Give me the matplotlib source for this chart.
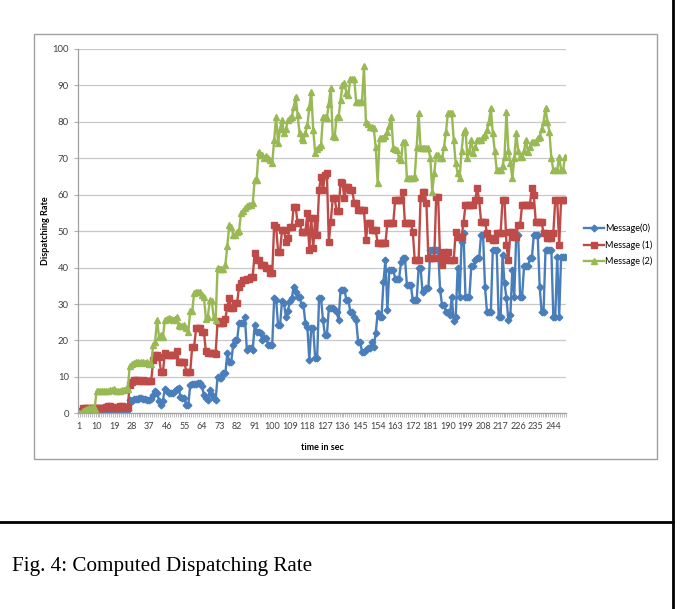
import matplotlib
matplotlib.use("Agg")
import matplotlib.pyplot as plt
from matplotlib.patches import Rectangle
from matplotlib.lines import Line2D
import numpy as np

# values, one per second (t = 1..250)
msg0 = [
    0, 0, 0.5, 0.8, 0.8, 0.8, 0.8, 0.8, 0.8, 0.8,
    0.8, 0.8, 0.8, 0.8, 0.8, 0.8, 0.8, 0.8, 0.8, 0.8,
    0.8, 0.8, 0.8, 0.8, 0.8, 0.8, 3.7, 3.5, 3.8, 4,
    4, 4.2, 4.1, 3.8, 3.9, 3.7, 3.6, 3.8, 5, 6,
    5.5, 3.5, 2.3, 3.5, 6.6, 6, 5.5, 5.5, 5.5, 6,
    6.6, 6.9, 4.6, 4.1, 4.1, 2.3, 2.3, 7.8, 8, 8,
    8, 8.2, 8.4, 7.5, 5, 4.1, 3.7, 6.4, 5, 4.1,
    3.7, 10, 9.6, 9.6, 11, 11, 16.5, 14.2, 14.2, 18.8,
    20.1, 20.1, 24.7, 24.7, 24.7, 26.5, 17.4, 17.8, 17.8, 17.4,
    24.2, 22.4, 22.4, 22, 20.1, 20.6, 20.6, 18.8, 18.8, 18.8,
    31.6, 31.2, 24.2, 24.2, 30.7, 30.2, 26.5, 28, 30.7, 31.6,
    34.8, 33.4, 32, 32, 29.7, 29.7, 24.7, 23.8, 14.6, 23.3,
    23.3, 15.1, 15.1, 31.6, 31.6, 25.6, 21.5, 21.5, 28.8, 28.8,
    28.8, 28.4, 27.9, 25.6, 33.9, 33.9, 33.9, 31.1, 31.1, 27.9,
    27.9, 26.5, 25.6, 19.7, 19.7, 16.9, 16.9, 17.4, 17.8, 17.8,
    19.7, 18.3, 22, 27.4, 26.5, 26.5, 36.1, 42.1, 28.4, 39.3,
    39.3, 39.3, 37, 37, 37, 41.6, 42.5, 42.5, 35.2, 35.2,
    35.2, 31.1, 31.1, 31.1, 39.8, 39.8, 33.4, 33.9, 34.3, 34.3,
    44.8, 44.8, 44.8, 44.8, 44.8, 33.9, 29.7, 29.7, 27.9, 27.9,
    27, 32, 25.2, 26.5, 39.8, 32, 47.1, 49.4, 32, 32,
    32, 40.3, 40.3, 42.1, 42.5, 42.5, 49, 49, 34.8, 27.9,
    27.9, 27.9, 44.8, 44.8, 44.8, 26.5, 26.5, 43.5, 35.7, 31.6,
    25.6, 27, 39.3, 32, 49, 49, 32, 32, 40.3, 40.3,
    40.3, 42.5, 42.5, 49, 49, 49, 34.8, 27.9, 27.9, 44.8,
    44.8, 44.8, 44.8, 26.5, 26.5, 43, 26.5, 43, 43, 43,
]

msg1 = [
    0, 0.5, 1.4, 1.4, 1.4, 1.4, 1.4, 1.4, 1.4, 1.4,
    1.4, 1.4, 1.4, 1.4, 1.6, 2, 2, 1.5, 1.6, 1.4,
    1.5, 2, 2, 1.8, 1.8, 1.8, 7.8, 8.7, 9.1, 9.1,
    9.1, 8.8, 9, 9.2, 9, 8.9, 8.8, 8.8, 14.6, 16,
    16, 15.5, 11.4, 11.4, 16.5, 16, 16, 16, 16, 16,
    17, 14.2, 14.2, 14.2, 14.2, 11.4, 11.4, 11.4, 18.3, 18.3,
    23.3, 23.3, 23.3, 22.4, 22.4, 17, 16.5, 16.5, 16.5, 16.5,
    16.3, 25.2, 24.7, 24.7, 24.7, 26, 29.3, 31.6, 28.8, 28.8,
    30.2, 30.2, 34.8, 35.7, 36.6, 36.6, 37, 37, 37.5, 37.5,
    43.9, 42, 42, 40.7, 40.7, 40.7, 39.8, 39.8, 38.4, 38.4,
    51.7, 51.2, 44.4, 44.4, 50.3, 50.3, 47.1, 48, 51.2, 51.2,
    56.7, 56.7, 52.2, 52.6, 49.9, 49.9, 49.9, 54.9, 44.8, 53.5,
    45.3, 53.5, 49, 61.3, 65, 61.3, 65.4, 65.9, 47.1, 52.6,
    59, 59, 55.4, 55.4, 63.6, 63.1, 59, 62.2, 62.2, 61.3,
    61.3, 57.6, 57.6, 55.8, 55.8, 55.8, 55.8, 47.6, 52.2, 52.2,
    50.3, 50.3, 50.3, 46.7, 46.7, 46.7, 46.7, 46.7, 52.2, 52.2,
    52.2, 52.2, 58.6, 58.6, 58.6, 58.6, 60.8, 52.2, 52.2, 52.2,
    52.2, 49.9, 42.1, 42.1, 42.1, 59, 60.8, 60.8, 57.6, 42.5,
    42.5, 42.5, 42.5, 59.5, 59.5, 42.5, 40.7, 44.4, 42.1, 44.4,
    42.1, 42.1, 42.1, 49.9, 48.5, 48.5, 48.5, 52.2, 57.2, 57.2,
    57.2, 57.2, 57.2, 58.6, 61.8, 58.6, 52.6, 52.6, 52.6, 49.4,
    48, 48, 47.6, 47.6, 49.4, 49.4, 49.4, 58.6, 58.6, 46.2,
    42.1, 49.9, 49.9, 48.5, 48.5, 51.7, 51.7, 57.2, 57.2, 57.2,
    57.2, 57.2, 61.8, 59.9, 52.6, 52.6, 52.6, 52.6, 49.4, 49.4,
    48, 48, 48, 49.4, 58.6, 58.6, 46.2, 58.6, 58.6, 58.6,
]

msg2 = [
    0, 0, 0.5, 1, 1.2, 1.5, 1.5, 1.5, 1.2, 6,
    6, 6, 6.2, 6, 6.1, 6, 6.3, 6.5, 6.8, 6.2,
    6, 6.1, 6.3, 6.5, 6.6, 6.8, 13, 13.5, 13.8, 14,
    14, 13.8, 14.1, 14, 13.9, 14.2, 13.6, 13.5, 18.8, 19.7,
    25.6, 21, 21.5, 21, 25.6, 26, 26.2, 25.8, 25.6, 26,
    26.5, 24.2, 24, 24, 24.2, 23.5, 22.4, 28, 28, 33,
    33.4, 33.4, 33.2, 32.5, 32, 26, 26.5, 31, 30.7, 26.5,
    25.6, 40, 39.5, 39.5, 39.5, 40.7, 46, 51.7, 51.2, 49,
    49, 49.9, 50, 55, 55.4, 56.3, 56.8, 57.2, 57.2, 57.6,
    64, 64, 71.8, 70.9, 70.9, 70, 70.5, 70, 69.5, 68.6,
    75, 81.4, 74.1, 78, 80.5, 76.9, 78, 80.5, 81, 81.4,
    84, 86.9, 81.9, 76.9, 75.5, 75, 77, 79.1, 84, 88.3,
    77.8, 71.4, 72.5, 73, 73.7, 81.4, 81.4, 81, 85, 89.2,
    76, 75.9, 81.4, 81.4, 86, 90.1, 90.6, 88, 87.4, 91.9,
    91.9, 91.9, 85.5, 85.5, 85.5, 85.5, 95.2, 80, 79.5, 78.7,
    78.5, 78.2, 73.2, 63.1, 75.5, 75.5, 75.5, 76, 77.3, 79,
    81.4, 72.7, 72.5, 72.2, 70, 69.5, 74.6, 74.6, 64.5, 64.5,
    64.5, 64.5, 65, 73, 82.3, 72.7, 72.7, 72.7, 72.7, 72.7,
    70, 60.8, 66, 70.9, 70.9, 70, 70, 73, 77.3, 82.3,
    82.3, 82.3, 75, 68.6, 66, 64.5, 72, 77.3, 77.8, 70,
    72, 75, 71.4, 73, 75, 75, 75, 75.9, 76.5, 77.8,
    80, 83.7, 76.9, 72, 66.8, 66.8, 66.8, 68, 70.4, 82.8,
    72, 68.6, 64.5, 70, 76.9, 72, 70.4, 70.4, 72, 75,
    71.8, 73, 74.6, 74.6, 74.6, 75.5, 75.9, 78, 80, 83.7,
    80, 77.3, 70, 66.8, 66.8, 66.8, 70.4, 66.8, 66.8, 70.4,
]

t = np.arange(1, len(msg0) + 1)
tick_labels = list(range(1, 245, 9))
series = [
    ("Message(0)", msg0, "#4A7EBB", "D", 3.4),
    ("Message (1)", msg1, "#BE4B48", "s", 4.2),
    ("Message (2)", msg2, "#98B954", "^", 4.4),
]

W, H = 692, 609
fig = plt.figure(figsize=(W / 100, H / 100), dpi=100)
plt.rcParams['font.family'] = ['Lato', 'DejaVu Sans']

# chart frame (the pasted Excel chart)
fig.patches.append(Rectangle((34 / W, 1 - 459 / H), 623 / W, 425 / H,
                             transform=fig.transFigure, fill=False,
                             edgecolor="#a0a0a0", linewidth=1.0))

ax = fig.add_axes([78 / W, 1 - 413.3 / H, (566 - 78) / W, (413.3 - 49) / H])
for name, vals, col, mk, ms in series:
    ax.plot(t, vals, color=col, linewidth=1.7, marker=mk, markersize=ms,
            markerfacecolor=col, markeredgecolor=col, label=name)

ax.set_xlim(0.5, len(t) + 0.5)
ax.set_ylim(0, 100)
ax.set_yticks(range(0, 101, 10))
ax.set_xticks(tick_labels)
ax.set_xticks(np.arange(0.5, len(t) + 1, 1), minor=True)
ax.tick_params(axis="x", which="major", length=0, labelsize=6.5, pad=6, colors="#404040")
ax.tick_params(axis="x", which="minor", length=3, color="#b0b0b0", width=0.6)
ax.tick_params(axis="y", length=3, color="#b0b0b0", labelsize=6.8, colors="#404040")
ax.grid(axis="y", color="#c8c8c8", linewidth=0.9)
ax.set_axisbelow(True)
for s in ["top", "right"]:
    ax.spines[s].set_visible(False)
for s in ["left", "bottom"]:
    ax.spines[s].set_color("#a0a0a0")
    ax.spines[s].set_linewidth(0.9)

ax.set_xlabel("time in sec", fontsize=6.5, fontweight="bold")
ax.set_ylabel("Dispatching Rate", fontsize=6.5, fontweight="bold")
ax.xaxis.set_label_coords(0.5, -(443 - 413.3) / 364.3)
ax.yaxis.set_label_coords(-(78 - 50) / 488, 0.5)

handles = [Line2D([0], [0], color=c, marker=m, markersize=ms, linewidth=1.7)
           for _, _, c, m, ms in series]
fig.legend(handles, [s[0] for s in series], loc="center left",
           bbox_to_anchor=(580 / W, 1 - 245 / H), frameon=False,
           fontsize=6.5, handlelength=2.3, handletextpad=0.1,
           labelspacing=0.75, borderaxespad=0)

# page rules and caption
fig.add_artist(Line2D([0, 673 / W], [1 - 522 / H] * 2, color="black", linewidth=2,
                      transform=fig.transFigure))
fig.add_artist(Line2D([673 / W] * 2, [0, 1], color="black", linewidth=2,
                      transform=fig.transFigure))
fig.text(12 / W, 1 - 566 / H, "Fig. 4: Computed Dispatching Rate",
         fontsize=15.2, family="Liberation Serif", va="center", ha="left")

fig.savefig("out.png", dpi=100)
